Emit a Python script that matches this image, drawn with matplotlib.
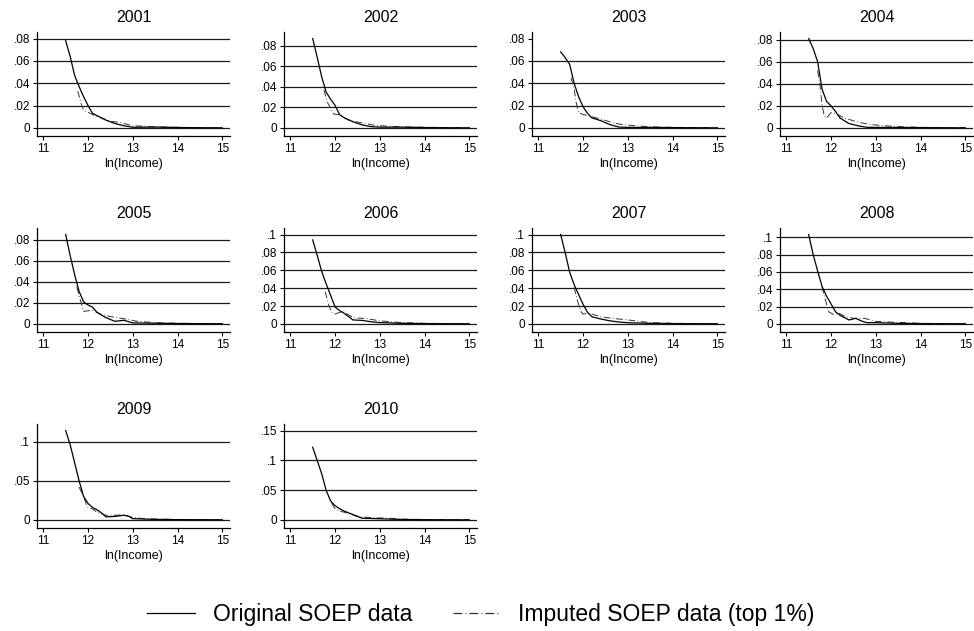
import matplotlib
matplotlib.use("Agg")
import matplotlib.pyplot as plt
from matplotlib.lines import Line2D

plt.rcParams["font.family"] = ["Liberation Sans", "DejaVu Sans"]

# ---------------- data ----------------
years = [2001, 2002, 2003, 2004, 2005, 2006, 2007, 2008, 2009, 2010]
x_ticks = [11, 12, 13, 14, 15]
x_label = "ln(Income)"
legend_labels = ["Original SOEP data", "Imputed SOEP data (top 1%)"]

yticks_2001 = [0, 0.02, 0.04, 0.06, 0.08]
yticks_2006 = [0, 0.02, 0.04, 0.06, 0.08, 0.1]
yticks_2009 = [0, 0.05, 0.1]
yticks_2010 = [0, 0.05, 0.1, 0.15]

x_orig_2001 = [11.5, 11.6, 11.7, 11.8, 11.9, 12.0, 12.1, 12.2, 12.4, 12.6, 12.8, 13.0, 13.5, 14.0, 14.5, 15.0]
y_orig_2001 = [0.078, 0.064, 0.047, 0.037, 0.028, 0.02, 0.013, 0.011, 0.007, 0.004, 0.002, 0.0006, 0.0008, 0.0004, 0.0002, 0.0001]
x_imp_2001 = [11.77, 11.85, 11.9, 12.0, 12.1, 12.3, 12.5, 12.7, 12.9, 13.0, 13.5, 14.0, 14.5, 15.0]
y_imp_2001 = [0.033, 0.021, 0.016, 0.014, 0.012, 0.009, 0.006, 0.005, 0.003, 0.002, 0.001, 0.0006, 0.0003, 0.0001]

x_orig_2002 = [11.5, 11.6, 11.7, 11.8, 11.9, 12.0, 12.1, 12.2, 12.4, 12.6, 12.8, 13.0, 13.5, 14.0, 14.5, 15.0]
y_orig_2002 = [0.087, 0.069, 0.05, 0.035, 0.028, 0.022, 0.013, 0.01, 0.006, 0.003, 0.0013, 0.0008, 0.0008, 0.0004, 0.0002, 0.0001]
x_imp_2002 = [11.75, 11.84, 11.97, 12.08, 12.3, 12.53, 12.83, 13.06, 13.5, 14.0, 14.5, 15.0]
y_imp_2002 = [0.037, 0.024, 0.0135, 0.013, 0.0077, 0.0055, 0.003, 0.002, 0.001, 0.0007, 0.0004, 0.0001]

x_orig_2003 = [11.5, 11.6, 11.7, 11.8, 11.9, 12.0, 12.1, 12.2, 12.4, 12.6, 12.8, 13.0, 13.5, 14.0, 14.5, 15.0]
y_orig_2003 = [0.068, 0.063, 0.057, 0.04, 0.028, 0.019, 0.013, 0.009, 0.0065, 0.003, 0.0008, 0.0005, 0.0005, 0.0003, 0.0002, 0.0001]
x_imp_2003 = [11.73, 11.8, 11.85, 11.9, 12.0, 12.2, 12.4, 12.6, 12.8, 13.0, 13.5, 14.0, 14.5, 15.0]
y_imp_2003 = [0.045, 0.035, 0.022, 0.014, 0.012, 0.01, 0.008, 0.0055, 0.0035, 0.0025, 0.001, 0.0006, 0.0003, 0.0001]

x_orig_2004 = [11.5, 11.6, 11.7, 11.8, 11.9, 12.0, 12.1, 12.2, 12.4, 12.6, 12.8, 13.0, 13.5, 14.0, 14.5, 15.0]
y_orig_2004 = [0.081, 0.072, 0.06, 0.035, 0.024, 0.02, 0.015, 0.009, 0.004, 0.002, 0.0006, 0.0005, 0.0005, 0.0003, 0.0002, 0.0001]
x_imp_2004 = [11.7, 11.75, 11.8, 11.85, 11.9, 12.0, 12.1, 12.3, 12.5, 12.7, 12.9, 13.2, 13.5, 14.0, 14.5, 15.0]
y_imp_2004 = [0.052, 0.04, 0.02, 0.011, 0.009, 0.014, 0.013, 0.009, 0.0065, 0.0045, 0.003, 0.002, 0.0012, 0.0006, 0.0003, 0.0001]

x_orig_2005 = [11.5, 11.6, 11.7, 11.8, 11.9, 12.0, 12.1, 12.2, 12.4, 12.6, 12.8, 13.0, 13.5, 14.0, 14.5, 15.0]
y_orig_2005 = [0.085, 0.065, 0.047, 0.031, 0.021, 0.018, 0.016, 0.011, 0.006, 0.0025, 0.0035, 0.001, 0.0007, 0.0004, 0.0003, 0.0002]
x_imp_2005 = [11.75, 11.82, 11.9, 12.0, 12.1, 12.3, 12.5, 12.8, 13.1, 13.5, 14.0, 14.5, 15.0]
y_imp_2005 = [0.035, 0.024, 0.012, 0.0125, 0.013, 0.009, 0.007, 0.005, 0.0025, 0.0012, 0.0007, 0.0004, 0.0002]

x_orig_2006 = [11.5, 11.6, 11.7, 11.8, 11.9, 12.0, 12.1, 12.2, 12.4, 12.6, 12.8, 13.0, 13.5, 14.0, 14.5, 15.0]
y_orig_2006 = [0.094, 0.077, 0.059, 0.045, 0.032, 0.019, 0.015, 0.012, 0.0045, 0.004, 0.0025, 0.0015, 0.0007, 0.0004, 0.0003, 0.0002]
x_imp_2006 = [11.78, 11.86, 11.93, 12.0, 12.1, 12.2, 12.4, 12.7, 13.0, 13.5, 14.0, 14.5, 15.0]
y_imp_2006 = [0.036, 0.021, 0.013, 0.011, 0.013, 0.0135, 0.007, 0.006, 0.0035, 0.0015, 0.0008, 0.0004, 0.0002]

x_orig_2007 = [11.5, 11.6, 11.7, 11.8, 11.9, 12.0, 12.1, 12.2, 12.4, 12.6, 12.8, 13.0, 13.5, 14.0, 14.5, 15.0]
y_orig_2007 = [0.1, 0.08, 0.058, 0.044, 0.033, 0.022, 0.013, 0.008, 0.0055, 0.0035, 0.0022, 0.0014, 0.0007, 0.0004, 0.0003, 0.0002]
x_imp_2007 = [11.8, 11.87, 11.95, 12.0, 12.1, 12.2, 12.4, 12.7, 13.0, 13.5, 14.0, 14.5, 15.0]
y_imp_2007 = [0.041, 0.027, 0.014, 0.011, 0.012, 0.011, 0.008, 0.006, 0.0045, 0.0015, 0.0008, 0.0004, 0.0002]

x_orig_2008 = [11.5, 11.6, 11.7, 11.8, 11.9, 12.0, 12.1, 12.2, 12.4, 12.55, 12.7, 12.8, 13.0, 13.5, 14.0, 14.5, 15.0]
y_orig_2008 = [0.103, 0.08, 0.061, 0.043, 0.032, 0.023, 0.014, 0.01, 0.0046, 0.0065, 0.003, 0.0015, 0.0015, 0.0007, 0.0004, 0.0003, 0.0002]
x_imp_2008 = [11.8, 11.86, 11.95, 12.05, 12.15, 12.3, 12.5, 12.75, 13.0, 13.4, 14.0, 14.5, 15.0]
y_imp_2008 = [0.043, 0.03, 0.014, 0.011, 0.013, 0.009, 0.0065, 0.0065, 0.003, 0.002, 0.0008, 0.0004, 0.0002]

x_orig_2009 = [11.5, 11.6, 11.7, 11.8, 11.9, 12.0, 12.1, 12.2, 12.3, 12.4, 12.6, 12.8, 12.9, 13.0, 13.5, 14.0, 14.5, 15.0]
y_orig_2009 = [0.114, 0.096, 0.073, 0.05, 0.03, 0.021, 0.016, 0.013, 0.009, 0.004, 0.0045, 0.006, 0.005, 0.0017, 0.0007, 0.0004, 0.0003, 0.0002]
x_imp_2009 = [11.8, 11.9, 11.98, 12.1, 12.2, 12.4, 12.6, 12.8, 13.0, 13.3, 14.0, 14.5, 15.0]
y_imp_2009 = [0.042, 0.03, 0.017, 0.014, 0.01, 0.006, 0.006, 0.0065, 0.003, 0.0015, 0.0007, 0.0004, 0.0002]

x_orig_2010 = [11.5, 11.6, 11.7, 11.8, 11.9, 12.0, 12.1, 12.2, 12.4, 12.6, 12.8, 13.0, 13.5, 14.0, 14.5, 15.0]
y_orig_2010 = [0.122, 0.1, 0.078, 0.05, 0.032, 0.024, 0.019, 0.015, 0.009, 0.003, 0.0025, 0.002, 0.0008, 0.0004, 0.0003, 0.0002]
x_imp_2010 = [11.92, 12.0, 12.1, 12.3, 12.45, 12.6, 12.9, 13.2, 13.5, 14.0, 14.5, 15.0]
y_imp_2010 = [0.028, 0.019, 0.015, 0.011, 0.007, 0.005, 0.0035, 0.003, 0.0015, 0.0008, 0.0004, 0.0002]

orig_x = [x_orig_2001, x_orig_2002, x_orig_2003, x_orig_2004, x_orig_2005,
          x_orig_2006, x_orig_2007, x_orig_2008, x_orig_2009, x_orig_2010]
orig_y = [y_orig_2001, y_orig_2002, y_orig_2003, y_orig_2004, y_orig_2005,
          y_orig_2006, y_orig_2007, y_orig_2008, y_orig_2009, y_orig_2010]
imp_x = [x_imp_2001, x_imp_2002, x_imp_2003, x_imp_2004, x_imp_2005,
         x_imp_2006, x_imp_2007, x_imp_2008, x_imp_2009, x_imp_2010]
imp_y = [y_imp_2001, y_imp_2002, y_imp_2003, y_imp_2004, y_imp_2005,
         y_imp_2006, y_imp_2007, y_imp_2008, y_imp_2009, y_imp_2010]
yticks = [yticks_2001] * 5 + [yticks_2006] * 3 + [yticks_2009, yticks_2010]
no_top_grid = [2003]

# ---------------- layout ----------------
W, H = 974, 631
fig = plt.figure(figsize=(W / 100, H / 100), dpi=100)

col_left = [37, 284, 532, 780]
row_top = [32, 228, 424]
ax_w, ax_h = 193, 104

def fmt(v):
    if v == 0:
        return "0"
    return ("%g" % v).lstrip("0")

imp_dash = (0, (7, 2.5, 0.8, 2.5))
for i, yr in enumerate(years):
    r, c = divmod(i, 4)
    left = col_left[c] / W
    bottom = 1 - (row_top[r] + ax_h) / H
    ax = fig.add_axes([left, bottom, ax_w / W, ax_h / H])

    ticks = yticks[i]
    R = max(ticks[-1], max(orig_y[i]), max(imp_y[i]))
    ax.set_ylim(-8.0 / 89 * R, R * (1 + 6.5 / 89))
    ax.set_xlim(11 - 6.3 / 179 * 4, 15 + 7.7 / 179 * 4)

    for t in ticks:
        if yr in no_top_grid and t == ticks[-1]:
            continue
        ax.axhline(t, color="#1a1a1a", lw=0.9, zorder=1)

    ax.plot(orig_x[i], orig_y[i], color="black", lw=0.9, zorder=3)
    ax.plot(imp_x[i], imp_y[i], color="#333333", lw=0.7,
            linestyle=imp_dash, zorder=2)

    ax.set_yticks(ticks)
    ax.set_yticklabels([fmt(t) for t in ticks])
    ax.set_xticks(x_ticks)
    ax.set_xticklabels([str(t) for t in x_ticks])
    ax.tick_params(axis="both", labelsize=8.5, length=3, width=0.8,
                   color="black", pad=2)
    for s in ["top", "right"]:
        ax.spines[s].set_visible(False)
    for s in ["left", "bottom"]:
        ax.spines[s].set_linewidth(0.9)
    ax.set_xlabel(x_label, fontsize=9, labelpad=2)
    ax.set_title(str(yr), fontsize=11.5, pad=7)

leg_handles = [Line2D([], [], color="black", lw=0.9),
               Line2D([], [], color="#333333", lw=0.9, linestyle=imp_dash)]
fig.legend(leg_handles, legend_labels, loc="center", ncol=2,
           bbox_to_anchor=(481 / W, 16 / H), frameon=False,
           fontsize=16.5, handlelength=2.1, handletextpad=0.75,
           columnspacing=1.8)

fig.savefig("out.png", dpi=100, facecolor="white")
